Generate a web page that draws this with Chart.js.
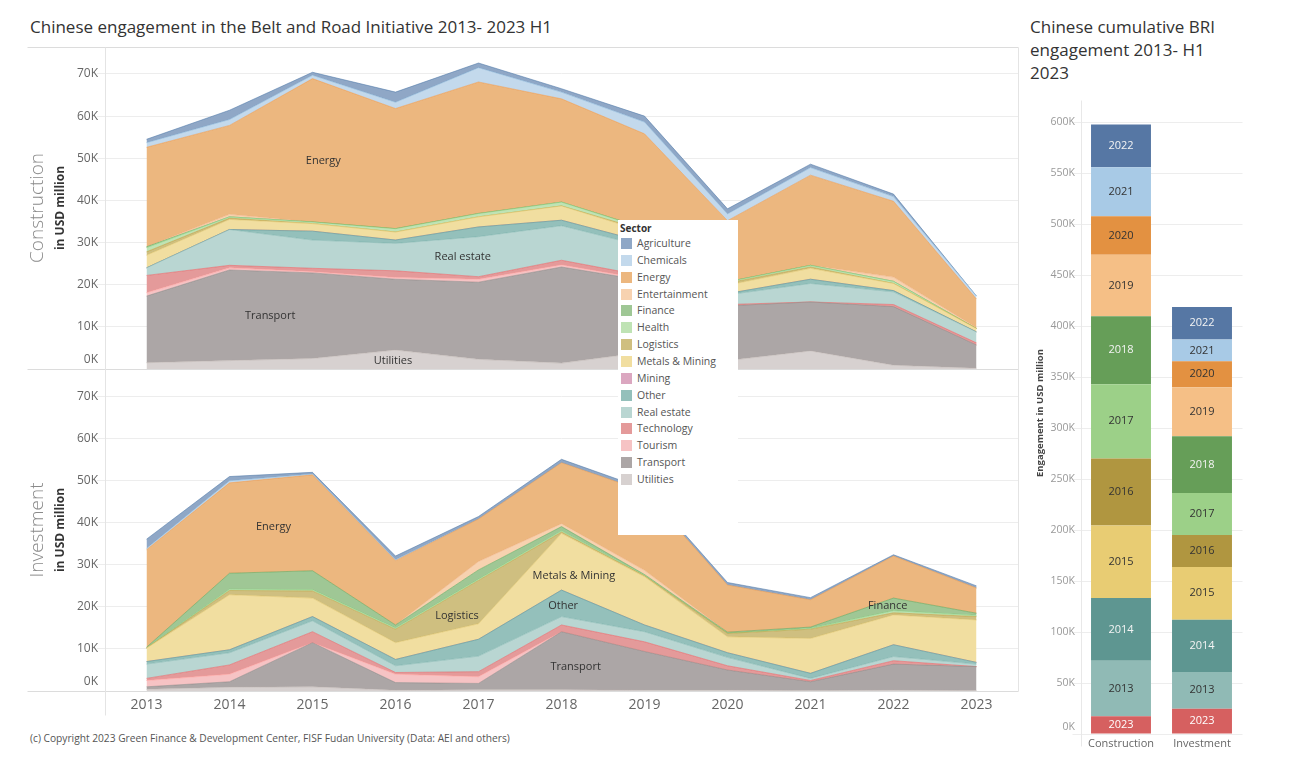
<!DOCTYPE html>
<html>
<head>
<meta charset="utf-8">
<script src="https://cdn.jsdelivr.net/npm/chart.js@4.4.0/dist/chart.umd.min.js"></script>
<style>
  html,body{margin:0;padding:0;background:#fff;}
  body{width:1304px;height:768px;position:relative;overflow:hidden;font-family:"Open Sans",sans-serif;}
  .abs{position:absolute;}
  #t1{left:30px;top:15px;font-size:17px;color:#333;white-space:nowrap;}
  #t2{left:1030px;top:15px;font-size:17px;line-height:23px;color:#333;white-space:nowrap;}
  #copy{left:30px;top:731px;font-size:10.2px;color:#555;white-space:nowrap;}
  #legend{left:618px;top:220px;width:120px;height:315px;background:#fff;z-index:5;}
  #legend .ttl{position:absolute;left:2px;top:1px;font-size:10px;font-weight:700;color:#333;}
  #legend .it{position:absolute;left:3px;height:12px;font-size:10.5px;color:#555;line-height:12px;white-space:nowrap;}
  #legend .sw{position:absolute;left:0;top:0;width:11px;height:11px;}
  #legend .lb{position:absolute;left:16px;top:-1px;}
</style>
</head>
<body>
<div id="t1" class="abs">Chinese engagement in the Belt and Road Initiative 2013- 2023 H1</div>
<div id="t2" class="abs">Chinese cumulative BRI<br>engagement 2013- H1<br>2023</div>
<canvas id="c1" class="abs" style="left:0;top:40px" width="1020" height="332"></canvas>
<canvas id="c2" class="abs" style="left:0;top:370px" width="1020" height="350"></canvas>
<canvas id="c3" class="abs" style="left:1020px;top:100px" width="284" height="660"></canvas>
<div id="legend" class="abs"></div>
<div id="copy" class="abs">(c) Copyright 2023 Green Finance &amp; Development Center, FISF Fudan University (Data: AEI and others)</div>
<script>
// ---------------- DATA ----------------
const years = ['2013','2014','2015','2016','2017','2018','2019','2020','2021','2022','2023'];
const sectors = ['Agriculture','Chemicals','Energy','Entertainment','Finance','Health','Logistics','Metals & Mining','Mining','Other','Real estate','Technology','Tourism','Transport','Utilities'];

// Construction, USD million
const conAgriculture   = [800, 2200, 700, 2400, 1100, 800, 1400, 1200, 800, 600, 0];
const conChemicals     = [1100, 1400, 800, 1500, 3400, 1600, 2800, 1600, 1800, 1100, 700];
const conEnergy        = [23600, 21100, 34000, 28500, 31200, 24500, 22400, 14500, 21400, 18000, 6800];
const conEntertainment = [0, 600, 0, 0, 0, 0, 0, 0, 0, 1000, 200];
const conFinance       = [200, 0, 0, 0, 0, 0, 0, 0, 0, 0, 0];
const conHealth        = [1000, 300, 400, 800, 800, 900, 500, 300, 400, 500, 0];
const conLogistics     = [800, 300, 0, 0, 0, 0, 300, 500, 300, 0, 0];
const conMetalsMining  = [3000, 2400, 1800, 1900, 2400, 3400, 2500, 2000, 2600, 1700, 800];
const conMining        = [0, 0, 0, 0, 0, 0, 0, 0, 0, 0, 0];
const conOther         = [0, 0, 2100, 800, 2300, 1300, 1000, 300, 1000, 300, 0];
const conRealEstate    = [1800, 8500, 6700, 6500, 9500, 8200, 7000, 2300, 4400, 3000, 2600];
const conTechnology    = [4100, 600, 800, 1600, 600, 1100, 800, 300, 0, 500, 500];
const conTourism       = [800, 500, 300, 400, 700, 500, 300, 0, 0, 0, 0];
const conTransport     = [15800, 21500, 20300, 16800, 18300, 22800, 17000, 13000, 11600, 13900, 5500];
const conUtilities     = [1500, 2000, 2500, 4500, 2300, 1400, 4000, 2000, 4300, 900, 200];

// Investment, USD million
const invAgriculture   = [2200, 1000, 400, 900, 600, 800, 600, 600, 500, 300, 500];
const invChemicals     = [300, 500, 200, 200, 0, 0, 0, 0, 0, 0, 0];
const invEnergy        = [23200, 21500, 22800, 15300, 10100, 14500, 18800, 11200, 6500, 10000, 6000];
const invEntertainment = [0, 0, 0, 0, 2000, 700, 1000, 0, 0, 0, 0];
const invFinance       = [200, 3800, 4500, 700, 2200, 1000, 200, 300, 300, 3000, 500];
const invHealth        = [0, 300, 300, 300, 300, 300, 100, 0, 200, 500, 300];
const invLogistics     = [0, 1000, 1700, 3200, 10300, 300, 200, 800, 2200, 500, 800];
const invMetalsMining  = [3200, 13100, 4400, 4000, 3700, 13500, 11500, 3800, 8300, 7100, 10100];
const invMining        = [0, 0, 0, 0, 0, 0, 0, 0, 0, 0, 0];
const invOther         = [600, 700, 1000, 1500, 4000, 6300, 1600, 1100, 1200, 2800, 400];
const invRealEstate    = [3400, 2900, 2600, 1600, 3700, 2000, 2400, 2000, 500, 1000, 600];
const invTechnology    = [500, 2200, 2600, 400, 1200, 1600, 2300, 1000, 300, 800, 0];
const invTourism       = [1500, 1800, 0, 2000, 1600, 0, 0, 0, 0, 0, 0];
const invTransport     = [600, 1300, 10500, 1800, 1500, 13800, 9200, 4800, 2100, 6200, 5700];
const invUtilities     = [400, 900, 1000, 200, 300, 300, 200, 200, 100, 200, 100];

// Cumulative stacked bars (segments bottom to top)
const cumCategories  = ['Construction','Investment'];
const cumYears       = ['2023','2013','2014','2015','2016','2017','2018','2019','2020','2021','2022'];
const cumConstruction= [17300, 54600, 61400, 71200, 65700, 72900, 66700, 60100, 37900, 48000, 41900];
const cumInvestment  = [24800, 36000, 51300, 51700, 31400, 41200, 55500, 48100, 25500, 21300, 32000];

// Tick values
const areaTicks = [0, 10000, 20000, 30000, 40000, 50000, 60000, 70000];
const barTicks  = [0, 50000, 100000, 150000, 200000, 250000, 300000, 350000, 400000, 450000, 500000, 550000, 600000];

// ---------------- STYLE ----------------
const sectorFill = ['#8fa7c6','#c3d9ec','#ecb77f','#f7d2b0','#9fc795','#bfe3b4','#cfbf80','#f1dea0','#dba7c0','#94c0bb','#b9d6d2','#e49a9a','#f6c3c4','#aca6a6','#d7d1d0'];
const sectorLine = ['rgba(78,121,167,0.55)','rgba(120,170,210,0.5)','rgba(230,140,60,0.45)','rgba(240,170,120,0.5)','rgba(89,161,79,0.5)','rgba(120,200,110,0.5)','rgba(182,153,45,0.5)','rgba(220,190,90,0.5)','rgba(211,114,149,0.5)','rgba(73,152,148,0.5)','rgba(110,170,165,0.45)','rgba(225,87,89,0.5)','rgba(255,157,154,0.6)','rgba(121,112,110,0.4)','rgba(186,176,172,0.5)'];
const yearColors = ['#d66060','#90bab5','#5e9691','#e8cc73','#b09640','#9cd088','#669e58','#f5bf86','#e39141','#a8cae6','#5677a4'];
const yearText   = ['#fff','#333','#f4f4f4','#333','#333','#333','#f4f4f4','#333','#333','#333','#f4f4f4'];

const conBySector = [conAgriculture,conChemicals,conEnergy,conEntertainment,conFinance,conHealth,conLogistics,conMetalsMining,conMining,conOther,conRealEstate,conTechnology,conTourism,conTransport,conUtilities];
const invBySector = [invAgriculture,invChemicals,invEnergy,invEntertainment,invFinance,invHealth,invLogistics,invMetalsMining,invMining,invOther,invRealEstate,invTechnology,invTourism,invTransport,invUtilities];

// area labels (category index, value)
const conAreaLabels = [['Energy',2.13,49500],['Real estate',3.81,26500],['Transport',1.49,12600],['Utilities',2.97,1900]];
const invAreaLabels = [['Energy',1.53,39000],['Logistics',3.74,17900],['Metals & Mining',5.15,27400],['Other',5.02,20200],['Transport',5.17,5700],['Finance',8.93,20200]];

// ---------------- LEGEND ----------------
const lg = document.getElementById('legend');
lg.innerHTML = '<div class="ttl">Sector</div>' + sectors.map((s,i)=>
  `<div class="it" style="top:${18 + i*16.86}px"><div class="sw" style="background:${sectorFill[i]}"></div><div class="lb">${s.replace('&','&amp;')}</div></div>`).join('');

// ---------------- HELPERS ----------------
const FONT = '"Open Sans", sans-serif';
function line(c, x1, y1, x2, y2, col){ c.save(); c.strokeStyle=col; c.lineWidth=1; c.beginPath(); c.moveTo(Math.round(x1)+0.5, Math.round(y1)+0.5); c.lineTo(Math.round(x2)+0.5, Math.round(y2)+0.5); c.stroke(); c.restore(); }
function vText(c, text, x, y, font, color){ c.save(); c.translate(x,y); c.rotate(-Math.PI/2); c.font=font; c.fillStyle=color; c.textAlign='center'; c.textBaseline='middle'; c.fillText(text,0,0); c.restore(); }
function yTicks(chart, x, font, color, zeroShift){
  const s = chart.scales.y, c = chart.ctx;
  c.save(); c.font = font; c.fillStyle = color; c.textAlign='right'; c.textBaseline='middle';
  s.ticks.forEach(t => { let y = s.getPixelForValue(t.value); if (t.value === 0) y -= zeroShift; c.fillText((t.value/1000)+'K', x, y); });
  c.restore();
}
function areaDatasets(bySector){
  const ds = [];
  for (let i = sectors.length-1; i >= 0; i--) {
    ds.push({label: sectors[i], data: bySector[i], backgroundColor: sectorFill[i], borderColor: sectorLine[i], borderWidth: 1,
      pointRadius: 0, tension: 0, fill: ds.length === 0 ? 'origin' : '-1'});
  }
  return ds;
}
function areaOptions(max, showX, pad){
  const xOpts = {type:'category', offset:true, display:showX, grid:{display:false, drawTicks:false}, border:{display:false},
         ticks:{font:{family:FONT,size:14}, color:'#666', padding:6, maxRotation:0}};
  if (showX) xOpts.afterFit = (s)=>{ s.height = 29; };
  return {
    responsive:false, animation:false, devicePixelRatio:1,
    layout:{padding:pad},
    plugins:{legend:{display:false}, tooltip:{enabled:false}},
    scales:{
      x:xOpts,
      y:{stacked:true, min:0, max:max, grid:{color:'#ededed'}, border:{display:false},
         ticks:{display:false},
         afterBuildTicks:(s)=>{ s.ticks = areaTicks.map(v => ({value:v})); },
         afterFit:(s)=>{ s.width = 105; }}
    }
  };
}
function areaLabelDraw(chart, labels){
  const c = chart.ctx, xs = chart.scales.x, ys = chart.scales.y;
  c.save(); c.font = '11px ' + FONT; c.fillStyle = '#333'; c.textAlign='center'; c.textBaseline='middle';
  labels.forEach(l => c.fillText(l[0], xs.getPixelForValue(l[1]), ys.getPixelForValue(l[2])));
  c.restore();
}

// ---------------- TOP: CONSTRUCTION ----------------
new Chart(document.getElementById('c1'), {
  type:'line',
  data:{labels:years, datasets:areaDatasets(conBySector)},
  options:areaOptions(76400, false, {top:7, right:2, bottom:3, left:0}),
  plugins:[{id:'decor1', afterDraw(chart){
    const c = chart.ctx, ca = chart.chartArea;
    line(c, 27, ca.top, ca.right, ca.top, '#dcdcdc');
    line(c, 27, ca.bottom, ca.right, ca.bottom, '#dcdcdc');
    line(c, ca.left, ca.top, ca.left, chart.height, '#e4e4e4');
    line(c, ca.right, ca.top, ca.right, chart.height, '#e4e4e4');
    yTicks(chart, 98, '12px ' + FONT, '#666', 9);
    vText(c, 'Construction', 38, 168, '300 19px ' + FONT, '#8a8a8a');
    vText(c, 'in USD million', 61, 168, '700 12px ' + FONT, '#333');
    areaLabelDraw(chart, conAreaLabels);
  }}]
});

// ---------------- BOTTOM: INVESTMENT ----------------
new Chart(document.getElementById('c2'), {
  type:'line',
  data:{labels:years, datasets:areaDatasets(invBySector)},
  options:areaOptions(76100, true, {top:1, right:2, bottom:0, left:0}),
  plugins:[{id:'decor2', afterDraw(chart){
    const c = chart.ctx, ca = chart.chartArea;
    line(c, 27, ca.bottom, ca.right, ca.bottom, '#dcdcdc');
    line(c, ca.left, 0, ca.left, chart.height - 5, '#e4e4e4');
    line(c, ca.right, 0, ca.right, ca.bottom, '#e4e4e4');
    yTicks(chart, 98, '12px ' + FONT, '#666', 9);
    vText(c, 'Investment', 38, 160, '300 19px ' + FONT, '#8a8a8a');
    vText(c, 'in USD million', 61, 160, '700 12px ' + FONT, '#333');
    areaLabelDraw(chart, invAreaLabels);
  }}]
});

// ---------------- RIGHT: CUMULATIVE ----------------
new Chart(document.getElementById('c3'), {
  type:'bar',
  data:{labels:cumCategories, datasets:cumYears.map((y,i)=>({
    label:y, data:[cumConstruction[i], cumInvestment[i]], backgroundColor:yearColors[i],
    borderWidth:0, categoryPercentage:1, barPercentage:0.74}))},
  options:{
    responsive:false, animation:false, devicePixelRatio:1,
    layout:{padding:{top:12, right:61.5, bottom:0, left:0}},
    plugins:{legend:{display:false}, tooltip:{enabled:false}},
    scales:{
      x:{stacked:true, grid:{display:false, drawTicks:false}, border:{display:false},
         ticks:{font:{family:FONT,size:11}, color:'#666', padding:3},
         afterFit:(s)=>{ s.height = 26; }},
      y:{stacked:true, min:0, max:610000, grid:{color:'#ededed'}, border:{display:false},
         ticks:{display:false},
         afterBuildTicks:(s)=>{ s.ticks = barTicks.map(v => ({value:v})); },
         afterFit:(s)=>{ s.width = 60.5; }}
    }
  },
  plugins:[{id:'decor3', afterDraw(chart){
    const c = chart.ctx, ca = chart.chartArea;
    line(c, ca.left, 0, ca.left, ca.bottom + 12, '#e8e8e8');
    yTicks(chart, 55, '10.5px ' + FONT, '#999', 7);
    vText(c, 'Engagement in USD million', 20, 313, '700 9.5px ' + FONT, '#444');
    c.save(); c.font = '11px ' + FONT; c.textAlign='center'; c.textBaseline='middle';
    chart.data.datasets.forEach((ds, di) => {
      chart.getDatasetMeta(di).data.forEach(el => {
        c.fillStyle = yearText[di];
        c.fillText(ds.label, el.x, (el.y + el.base)/2);
      });
    });
    c.restore();
  }}]
});
</script>
</body>
</html>
